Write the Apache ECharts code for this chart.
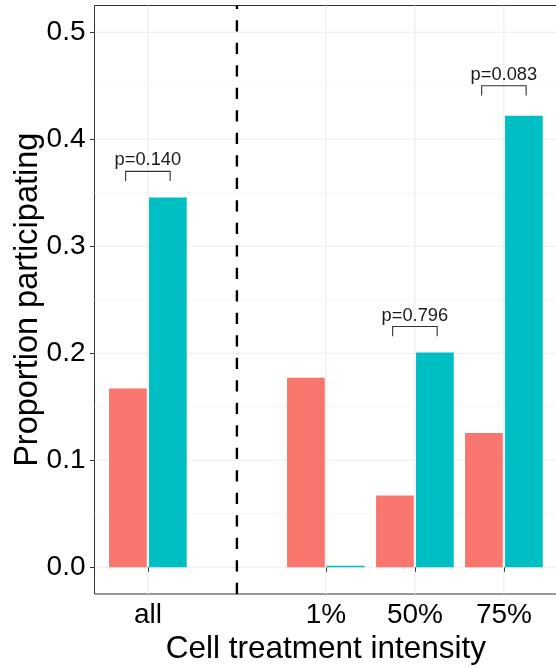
<!DOCTYPE html>
<html>
<head>
<meta charset="utf-8">
<script src="https://cdn.jsdelivr.net/npm/echarts@6/dist/echarts.min.js"></script>
<style>
  html, body { margin: 0; padding: 0; background: #ffffff; }
  #chart { width: 556px; height: 667px; }
</style>
</head>
<body>
<div id="chart"></div>
<script>
// Category slots along the x axis (slot 2 is the blank divider slot)
const categories = ['all', '', '1%', '50%', '75%'];
const positions = [1, 2, 3, 4, 5];
const labelledPositions = [1, 3, 4, 5];

// Proportion participating per group
const controlValues = [0.167, null, 0.177, 0.067, 0.1255];
const treatedValues = [0.3455, null, 0.0015, 0.2008, 0.4219];

// Y axis breaks
const yTicks = [0, 0.1, 0.2, 0.3, 0.4, 0.5];
const yMinorBreaks = [0.05, 0.15, 0.25, 0.35, 0.45];

// Divider between pooled and per-intensity groups
const dividerPosition = 2;

// Significance brackets
const sigPositions = [1, 4, 5];
const sigHeights = [0.370, 0.225, 0.450];
const sigLabels = ['p=0.140', 'p=0.796', 'p=0.083'];

const X_MIN = 0.4, X_MAX = 5.6;
const Y_MIN = -0.025, Y_MAX = 0.525;
const FONT = '"Liberation Sans", Arial, Helvetica, sans-serif';

function toPairs(values) {
  const out = [];
  values.forEach((v, i) => { if (v !== null) out.push([positions[i], v]); });
  return out;
}

// grid line records: [kind, value]; kind 0 = major horizontal, 1 = minor horizontal, 2 = vertical
const gridRecords = [
  ...yMinorBreaks.map(v => [1, v]),
  ...yTicks.map(v => [0, v]),
  ...labelledPositions.map(v => [2, v])
];

const chart = echarts.init(document.getElementById('chart'), null, { renderer: 'canvas' });

chart.setOption({
  animation: false,
  backgroundColor: '#ffffff',
  textStyle: { fontFamily: FONT },
  grid: {
    left: 94.5, top: 5.5, right: -1.3, bottom: 73,
    show: true, borderColor: '#333333', borderWidth: 1,
    backgroundColor: 'transparent',
    containLabel: false, outerBoundsMode: 'none'
  },
  xAxis: {
    type: 'value', min: X_MIN, max: X_MAX,
    axisLine: { show: false },
    axisTick: { show: true, customValues: labelledPositions, length: 4.5, lineStyle: { color: '#333333', width: 1 } },
    axisLabel: {
      customValues: labelledPositions,
      formatter: v => categories[positions.indexOf(v)],
      fontSize: 28, color: '#000000', margin: 7.5, fontFamily: FONT
    },
    splitLine: { show: false },
    name: 'Cell treatment intensity', nameLocation: 'middle', nameGap: 39,
    nameMoveOverlap: false,
    nameTextStyle: { fontSize: 31.5, color: '#000000', fontFamily: FONT }
  },
  yAxis: {
    type: 'value', min: Y_MIN, max: Y_MAX,
    axisLine: { show: false },
    axisTick: { show: true, customValues: yTicks, length: 4.5, lineStyle: { color: '#333333', width: 1 } },
    axisLabel: {
      customValues: yTicks,
      formatter: v => v.toFixed(1),
      fontSize: 28, color: '#000000', margin: 9, fontFamily: FONT
    },
    splitLine: { show: false },
    name: 'Proportion participating', nameLocation: 'middle', nameGap: 50, nameRotate: 90,
    nameMoveOverlap: false,
    nameTextStyle: { fontSize: 32.5, color: '#000000', fontFamily: FONT }
  },
  series: [
    {
      type: 'custom', name: 'grid', z: 0, silent: true,
      data: gridRecords,
      encode: { x: 1, y: 1 },
      renderItem: function (params, api) {
        const kind = api.value(0), v = api.value(1);
        const cs = params.coordSys;
        if (kind === 2) {
          const x = api.coord([v, 0])[0];
          return { type: 'line', shape: { x1: x, y1: cs.y, x2: x, y2: cs.y + cs.height },
                   style: { stroke: '#EBEBEB', lineWidth: 1.1 } };
        }
        const y = api.coord([1, v])[1];
        return { type: 'line', shape: { x1: cs.x, y1: y, x2: cs.x + cs.width, y2: y },
                 style: { stroke: kind === 0 ? '#EBEBEB' : '#F4F4F4', lineWidth: kind === 0 ? 1.1 : 0.8 } };
      }
    },
    {
      type: 'bar', name: 'control', z: 2,
      data: toPairs(controlValues),
      barWidth: 37.7, barGap: '6%',
      itemStyle: { color: '#F8766D' }
    },
    {
      type: 'bar', name: 'treated', z: 2,
      data: toPairs(treatedValues),
      barWidth: 37.7, barGap: '6%',
      itemStyle: { color: '#00BFC4' }
    },
    {
      type: 'line', name: 'divider', z: 3, silent: true,
      data: [[dividerPosition, Y_MIN], [dividerPosition, Y_MAX]],
      symbol: 'none',
      lineStyle: { color: '#000000', width: 2.4, type: [11.3, 11.2] }
    },
    {
      type: 'custom', name: 'brackets', z: 4, silent: true,
      data: sigPositions.map((p, i) => [p, sigHeights[i]]),
      renderItem: function (params, api) {
        const x = api.value(0), h = api.value(1);
        const tip = 0.009, half = 0.25;
        const pts = [[x - half, h - tip], [x - half, h], [x + half, h], [x + half, h - tip]].map(p => api.coord(p));
        const top = api.coord([x, h]);
        return {
          type: 'group',
          children: [
            { type: 'polyline', shape: { points: pts }, style: { stroke: '#333333', lineWidth: 1.1, fill: null } },
            { type: 'text', x: top[0], y: top[1] - 2,
              style: { text: sigLabels[params.dataIndex], fill: '#1a1a1a', font: '18.3px ' + FONT,
                       align: 'center', verticalAlign: 'bottom' } }
          ]
        };
      }
    }
  ]
});
</script>
</body>
</html>
